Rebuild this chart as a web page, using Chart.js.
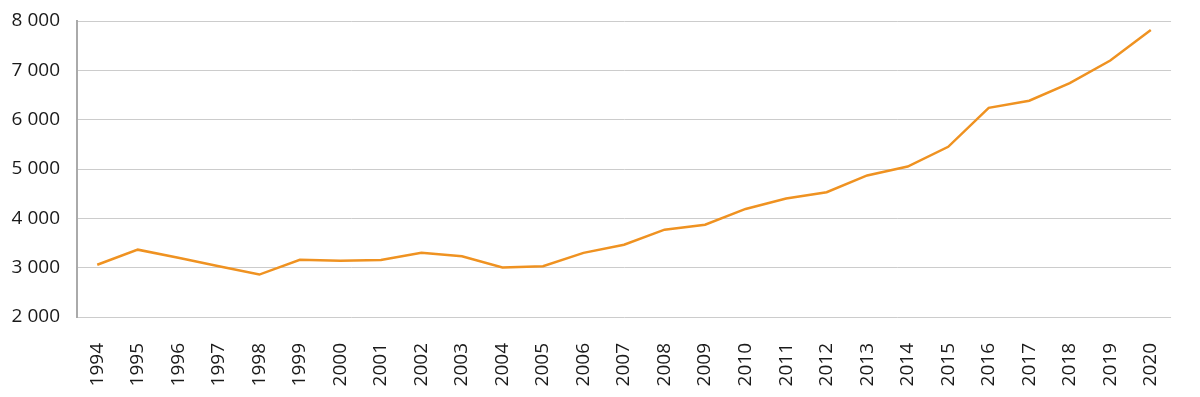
<!DOCTYPE html>
<html>
<head>
<meta charset="utf-8">
<script src="https://cdn.jsdelivr.net/npm/chart.js@4/dist/chart.umd.min.js"></script>
<style>
  html, body { margin: 0; padding: 0; background: #fff; }
  #wrap { width: 1200px; height: 397px; }
</style>
</head>
<body>
<div id="wrap"><canvas id="myChart"></canvas></div>
<script>
// data
const years = ['1994','1995','1996','1997','1998','1999','2000','2001','2002','2003','2004','2005','2006',
  '2007','2008','2009','2010','2011','2012','2013','2014','2015','2016','2017','2018','2019','2020'];
const values = [3060, 3365, 3200, 3030, 2860, 3160, 3140, 3155, 3300, 3230, 3005, 3030, 3300,
  3465, 3770, 3870, 4190, 4400, 4530, 4870, 5050, 5450, 6240, 6385, 6740, 7200, 7820];
const yTicks = [2000, 3000, 4000, 5000, 6000, 7000, 8000];

Chart.defaults.font.family = "'Open Sans', sans-serif";
Chart.defaults.font.size = 19;
Chart.defaults.color = '#1a1a1a';

var ctx = document.getElementById('myChart').getContext('2d');
var myChart = new Chart(ctx, {
  type: 'line',
  data: {
    labels: years,
    datasets: [{
      data: values,
      borderColor: '#ef9221',
      borderWidth: 2.5,
      pointRadius: 0,
      fill: false,
      tension: 0
    }]
  },
  options: {
    responsive: true,
    maintainAspectRatio: false,
    animation: false,
    layout: { padding: { top: 21, right: 22, left: 0, bottom: 0 } },
    plugins: {
      legend: { display: false },
      tooltip: { enabled: false }
    },
    scales: {
      x: {
        offset: true,
        grid: { display: false, drawTicks: false },
        border: { display: false },
        ticks: { minRotation: 90, maxRotation: 90, padding: 26, autoSkip: false },
        afterFit: (axis) => { axis.height = 80; }
      },
      y: {
        min: 2000,
        max: 8000,
        afterBuildTicks: (axis) => { axis.ticks = yTicks.map(v => ({ value: v })); },
        grid: { color: '#cccccc', lineWidth: 1, drawTicks: false },
        border: { display: true, color: '#aaaaaa', width: 2 },
        ticks: {
          padding: 17,
          callback: (v) => String(v).replace(/\B(?=(\d{3})+(?!\d))/g, ' ')
        },
        afterFit: (axis) => { axis.width = 77; axis.paddingTop = 0; axis.paddingBottom = 0; }
      }
    }
  }
});
</script>
</body>
</html>
